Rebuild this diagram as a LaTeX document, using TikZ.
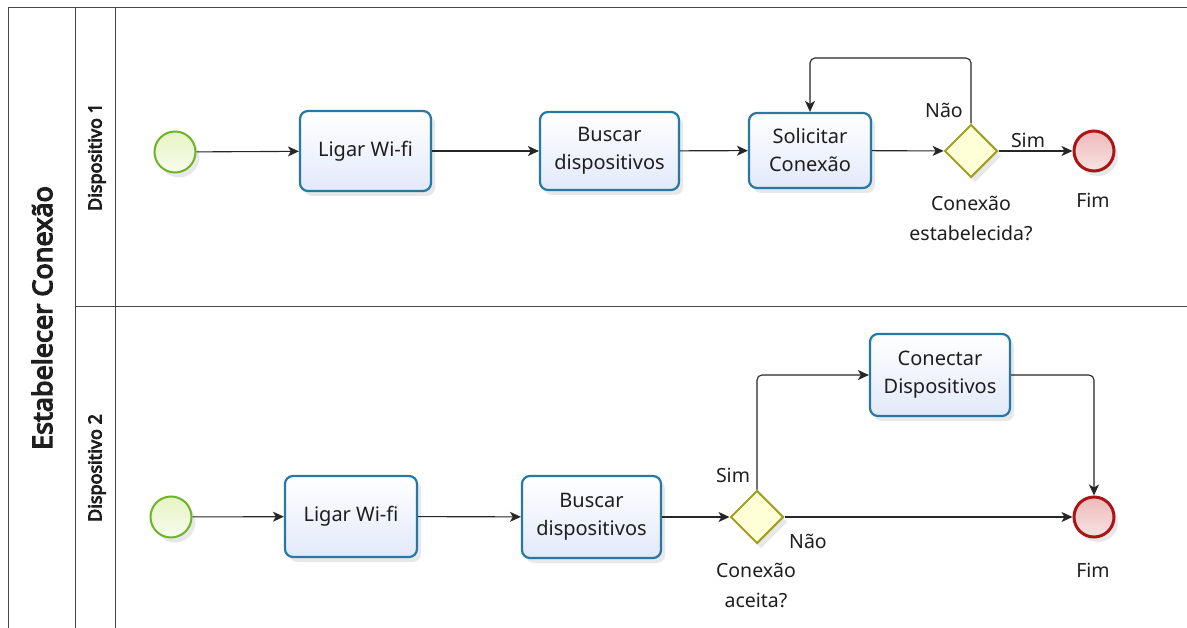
\documentclass[tikz,border=0pt]{standalone}
\usepackage{fontspec}
\setmainfont{Noto Sans}
\newfontfamily\heavyfont{Noto Sans}[FakeBold=4.5]
\usetikzlibrary{arrows.meta,shapes.geometric,shadows}

\definecolor{taskline}{RGB}{40,120,165}
\definecolor{taskfill}{RGB}{226,233,250}
\definecolor{startline}{RGB}{110,180,40}
\definecolor{startfill}{RGB}{230,244,195}
\definecolor{endline}{RGB}{170,22,22}
\definecolor{endfill}{RGB}{238,185,185}
\definecolor{gateline}{RGB}{160,160,35}
\definecolor{gatefill}{RGB}{255,255,215}
\definecolor{poolline}{RGB}{70,70,70}
\definecolor{txt}{RGB}{30,30,30}

\tikzset{
  softshadow/.style={drop shadow={opacity=0.18,shadow xshift=4pt,shadow yshift=-5pt}},
  task/.style={draw=taskline,line width=2.2pt,rounded corners=8pt,
    top color=white,bottom color=taskfill,softshadow,
    align=center,font=\fontsize{20}{28}\selectfont,text=txt,inner sep=2pt},
  startev/.style={circle,draw=startline,line width=2pt,minimum size=41pt,inner sep=0pt,
    top color=startfill,bottom color=white!70!startfill,softshadow},
  endev/.style={circle,draw=endline,line width=3pt,minimum size=40pt,inner sep=0pt,
    top color=endfill,bottom color=white!60!endfill,softshadow},
  gate/.style={diamond,shape aspect=1,draw=gateline,line width=2pt,minimum size=53pt,
    inner sep=0pt,fill=gatefill,softshadow},
  flow/.style={draw=black!85,line width=1.1pt,-{Stealth[length=11pt,width=10pt,inset=3pt]}},
  lbl/.style={font=\fontsize{19.5}{30}\selectfont,text=txt,align=center,inner sep=0pt},
  lane/.style={draw=poolline,line width=1pt},
  lanetitle/.style={rotate=90,font=\heavyfont\fontsize{18}{21}\selectfont,text=txt},
}

\begin{document}
\begin{tikzpicture}[x=1pt,y=-1pt]
  % page frame
  \useasboundingbox (0,0) rectangle (1187,628);
  \fill[white] (0,0) rectangle (1187,628);

  % pool and lanes
  \draw[lane] (8,628) -- (8,8) -- (1187,8);
  \draw[lane] (75,8) -- (75,628);
  \draw[lane] (115,8) -- (115,628);
  \draw[lane] (75,307) -- (1187,307);

  \node[rotate=90,font=\heavyfont\fontsize{27}{30}\selectfont,text=txt] (pooltitle) at (42,318) {Estabelecer Conexão};
  \node[lanetitle] (lane1) at (97,157) {Dispositivo 1};
  \node[lanetitle] (lane2) at (97,468) {Dispositivo 2};

  % lane 1
  \node[startev] (s1) at (175,152) {};
  \node[task,minimum width=131pt,minimum height=80pt] (wifi1) at (365.5,151) {Ligar Wi-fi};
  \node[task,minimum width=139pt,minimum height=78pt] (busca1) at (609.5,151) {Buscar\\dispositivos};
  \node[task,minimum width=122pt,minimum height=75pt] (solic) at (810,150.5) {Solicitar\\Conexão};
  \node[gate] (g1) at (971,151) {};
  \node[endev] (e1) at (1094,151) {};
  \coordinate (loopR) at (971,58);
  \coordinate (loopL) at (810,58);

  \draw[flow] (s1) -- (wifi1);
  \draw[flow] (wifi1) -- (busca1);
  \draw[flow] (busca1) -- (solic);
  \draw[flow] (solic) -- (g1);
  \draw[flow] (g1) -- (e1);
  \draw[flow,rounded corners=5pt] (g1.north) -- (loopR) -- (loopL) -- (solic.north);

  \node[lbl] (nao1) at (944,110) {Não};
  \node[lbl] (sim1) at (1028,140) {Sim};
  \node[lbl,anchor=north] (q1) at (971,196) {Conexão\\estabelecida?};
  \node[lbl] (fim1) at (1093,200) {Fim};

  % lane 2
  \node[startev] (s2) at (171,517) {};
  \node[task,minimum width=132pt,minimum height=81pt] (wifi2) at (351,516.5) {Ligar Wi-fi};
  \node[task,minimum width=139pt,minimum height=82pt] (busca2) at (591.5,517) {Buscar\\dispositivos};
  \node[gate] (g2) at (757,517) {};
  \node[task,minimum width=140pt,minimum height=82pt] (conect) at (940,375) {Conectar\\Dispositivos};
  \node[endev] (e2) at (1094,517) {};
  \coordinate (simUp) at (757,375);
  \coordinate (conR) at (1094,375);

  \draw[flow] (s2) -- (wifi2);
  \draw[flow] (wifi2) -- (busca2);
  \draw[flow] (busca2) -- (g2);
  \draw[flow] (g2) -- (e2);
  \draw[flow,rounded corners=5pt] (g2.north) -- (simUp) -- (conect.west);
  \draw[flow,rounded corners=5pt] (conect.east) -- (conR) -- (e2.north);

  \node[lbl] (sim2) at (733,475) {Sim};
  \node[lbl] (nao2) at (808,541) {Não};
  \node[lbl,anchor=north] (q2) at (756,563) {Conexão\\aceita?};
  \node[lbl] (fim2) at (1093,570) {Fim};
\end{tikzpicture}
\end{document}
